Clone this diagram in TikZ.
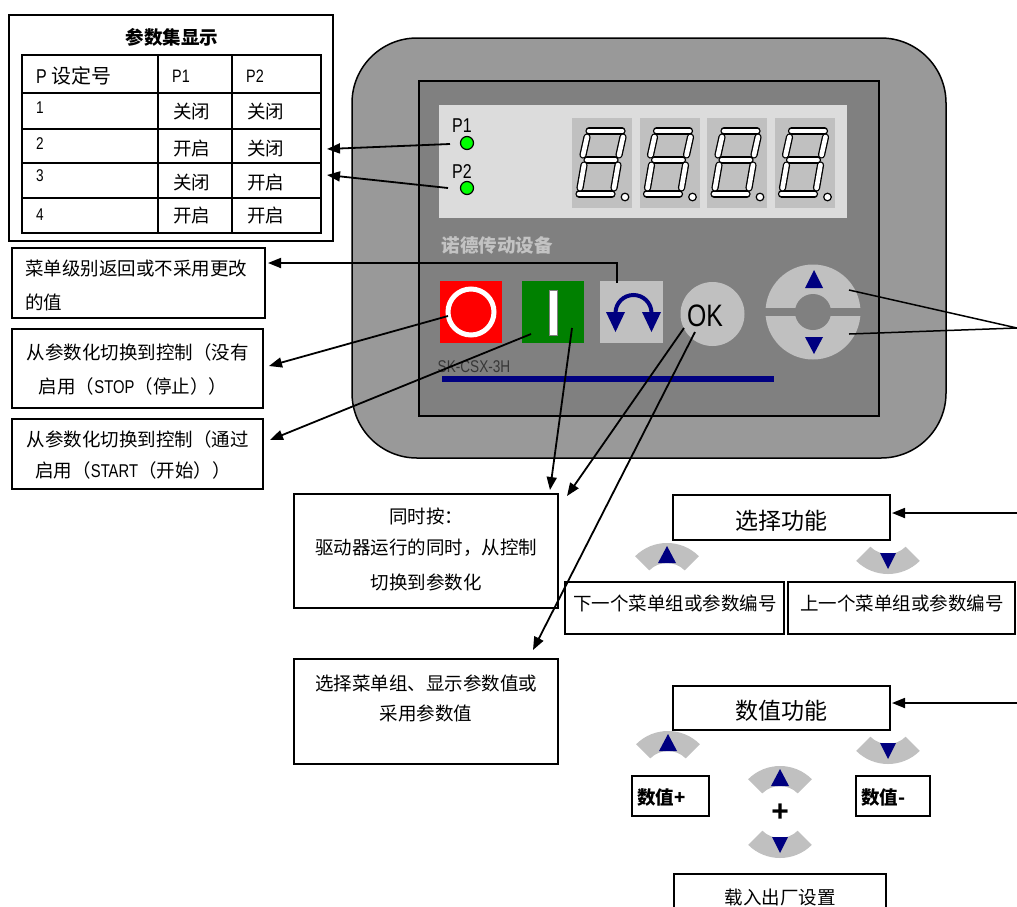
\documentclass[tikz,border=0pt]{standalone}
\usepackage{fontspec}
\setmainfont{Noto Sans CJK SC}
\newfontfamily\narrowfont[FakeStretch=0.8]{Liberation Sans}
\newfontfamily\plainsans{Liberation Sans}
\usetikzlibrary{arrows.meta}

\definecolor{casegray}{RGB}{153,153,153}
\definecolor{panelgray}{RGB}{128,128,128}
\definecolor{lcdgray}{RGB}{220,220,220}
\definecolor{keygray}{RGB}{192,192,192}
\definecolor{navyblue}{RGB}{0,0,128}
\definecolor{ledgreen}{RGB}{0,255,0}
\definecolor{stopred}{RGB}{255,0,0}
\definecolor{startgreen}{RGB}{0,128,0}
\definecolor{brandgray}{RGB}{195,195,195}
\definecolor{modelgray}{RGB}{55,55,55}

\tikzset{
  framebox/.style={draw, line width=1.8pt, fill=white, rectangle, anchor=north west,
    inner sep=0pt, outer sep=0pt},
  cjk/.style={inner sep=0pt, font=\fontsize{18.5}{22}\selectfont},
  cjkbig/.style={inner sep=0pt, font=\fontsize{23}{28}\selectfont},
  cjkbold/.style={inner sep=0pt, font=\fontsize{18.5}{22}\selectfont\bfseries},
  latin/.style={inner sep=0pt, font=\fontsize{18}{20}\selectfont\narrowfont},
  pointer/.style={draw, line width=1.8pt, -{Triangle[length=13pt,width=10pt]}},
  leader/.style={draw, line width=1.5pt},
  led/.style={circle, draw, fill=ledgreen, line width=1.2pt, minimum size=13pt, inner sep=0pt},
  segment/.style={draw=black, line width=1.3pt, double=white, double distance=4.6pt, line cap=round},
  segdigit/.pic={
    \fill[keygray] (0,0) rectangle (60,90);
    \foreach \xa/\ya/\xb/\yb in {17/13/50/13, 15/42/43/42, 7/76/40/76,
        15/19/11/37, 51/19/47/37, 12/47/8/70, 46/47/42/70}
      \draw[segment] (\xa,\ya) -- (\xb,\yb);
    \filldraw[fill=white, draw=black, line width=1.2pt] (53,79) circle[radius=3.8];
  },
  upkey/.pic={
    \fill[keygray] (-135:25) -- (-135:45) arc[start angle=-135, end angle=-45, radius=45]
      -- (-45:25) arc[start angle=-45, end angle=-135, radius=25] -- cycle;
    \fill[navyblue] (-9,-25) -- (9,-25) -- (0,-42) -- cycle;
  },
  downkey/.pic={
    \fill[keygray] (135:25) -- (135:45) arc[start angle=135, end angle=45, radius=45]
      -- (45:25) arc[start angle=45, end angle=135, radius=25] -- cycle;
    \fill[navyblue] (-8,24) -- (8,24) -- (0,40) -- cycle;
  },
}

\begin{document}
\begin{tikzpicture}[x=1pt,y=-1pt]
\useasboundingbox (0,0) rectangle (1017,906);
\fill[white] (0,0) rectangle (1017,906);

% ---------- parameter set table ----------
\node[framebox, minimum width=324pt, minimum height=226pt] (paramset) at (9,15) {};
\node[cjkbold] (paramtitle) at (172,37) {参数集显示};
\draw[line width=2pt] (22,55) rectangle (321,233);
\draw[line width=2pt] (158,55) -- (158,233) (232,55) -- (232,233);
\foreach \ry in {93,129,163,198} \draw[line width=2pt] (22,\ry) -- (321,\ry);
\node[inner sep=0pt, anchor=west, font=\fontsize{20}{24}\selectfont] (hdrset) at (36,76) {{\narrowfont P} 设定号};
\node[latin, anchor=west] (hdrpa) at (172,76) {P1};
\node[latin, anchor=west] (hdrpb) at (246,76) {P2};
\node[latin, anchor=west, font=\fontsize{17}{20}\selectfont\narrowfont] (rowa) at (36,108) {1};
\node[latin, anchor=west, font=\fontsize{17}{20}\selectfont\narrowfont] (rowb) at (36,144) {2};
\node[latin, anchor=west, font=\fontsize{17}{20}\selectfont\narrowfont] (rowc) at (36,176) {3};
\node[latin, anchor=west, font=\fontsize{17}{20}\selectfont\narrowfont] (rowd) at (36,215) {4};
\node[cjk, anchor=west] (cella1) at (173,112) {关闭};
\node[cjk, anchor=west] (cella2) at (247,112) {关闭};
\node[cjk, anchor=west] (cellb1) at (173,148) {开启};
\node[cjk, anchor=west] (cellb2) at (247,148) {关闭};
\node[cjk, anchor=west] (cellc1) at (173,182) {关闭};
\node[cjk, anchor=west] (cellc2) at (247,182) {开启};
\node[cjk, anchor=west] (celld1) at (173,215) {开启};
\node[cjk, anchor=west] (celld2) at (247,215) {开启};

% ---------- operating panel ----------
\draw[line width=1.5pt, fill=casegray, rounded corners=65pt] (352,38) rectangle (946,458);
\draw[line width=1.5pt, fill=panelgray] (419,81) rectangle (879,416);
\fill[lcdgray] (439,105) rectangle (847,218);
\foreach \dx in {572,639.5,707,774.5} \pic at (\dx,118) {segdigit};

\node[led] (leda) at (467,143) {};
\node[led] (ledb) at (467,188) {};
\node[latin, font=\fontsize{20}{22}\selectfont\narrowfont] (ledlaba) at (462,126) {P1};
\node[latin, font=\fontsize{20}{22}\selectfont\narrowfont] (ledlabb) at (462,171.5) {P2};

\node[cjkbold, text=brandgray] (brand) at (497,245) {诺德传动设备};

% STOP key
\fill[stopred] (440,281) rectangle (502,343);
\draw[white, line width=5pt] (471,312) circle[radius=23];
% START key
\fill[startgreen] (522,281) rectangle (584,343);
\filldraw[fill=white, draw=gray, line width=0.5pt] (549,290) rectangle (557,335);
% back key
\fill[keygray] (600,281) rectangle (663,343);
\draw[navyblue, line width=4pt] (615.5,313) arc[start angle=180, end angle=360, radius=18];
\fill[navyblue] (606,312) -- (625,312) -- (615.5,332) -- cycle;
\fill[navyblue] (642,312) -- (661,312) -- (651.5,332) -- cycle;
% OK key
\fill[keygray] (712.5,314) circle[radius=32];
\node[inner sep=0pt, font=\fontsize{31}{32}\selectfont\narrowfont] (oklabel) at (705,316) {OK};
% arrow wheel
\fill[keygray] (813,312) circle[radius=47.5];
\fill[panelgray] (813,312) circle[radius=18];
\fill[panelgray] (762,308) rectangle (864,316);
\fill[navyblue] (805,288) -- (823,288) -- (814,270) -- cycle;
\fill[navyblue] (805,337) -- (823,337) -- (814,354) -- cycle;

\node[inner sep=0pt, text=modelgray, font=\fontsize{17}{18}\selectfont\narrowfont] (model) at (474,367) {SK-CSX-3H};
\fill[navyblue] (442,376) rectangle (774,382);

% ---------- description boxes, left ----------
\node[framebox, minimum width=253pt, minimum height=70pt] (backbox) at (12,248) {};
\node[cjk, anchor=west] (backtxta) at (25,268) {菜单级别返回或不采用更改};
\node[cjk, anchor=west] (backtxtb) at (25,302) {的值};

\node[framebox, minimum width=251pt, minimum height=79pt] (stopbox) at (12,329) {};
\node[cjk] (stoptxta) at (137.5,352) {从参数化切换到控制（没有};
\node[cjk] (stoptxtb) at (133,386) {启用（{\narrowfont STOP}（停止））};

\node[framebox, minimum width=251pt, minimum height=70pt] (startbox) at (12,419) {};
\node[cjk] (starttxta) at (137.5,439) {从参数化切换到控制（通过};
\node[cjk] (starttxtb) at (133,470) {启用（{\narrowfont START}（开始））};

% ---------- description boxes, middle ----------
\node[framebox, minimum width=264pt, minimum height=114pt] (bothbox) at (294,494) {};
\node[cjk] (bothtxta) at (426,516) {同时按：};
\node[cjk] (bothtxtb) at (426,548) {驱动器运行的同时，从控制};
\node[cjk] (bothtxtc) at (426,582) {切换到参数化};

\node[framebox, minimum width=264pt, minimum height=105pt] (okbox) at (294,659) {};
\node[cjk] (oktxta) at (426,683) {选择菜单组、显示参数值或};
\node[cjk] (oktxtb) at (426,713) {采用参数值};

% ---------- function boxes, right ----------
\node[framebox, minimum width=217pt, minimum height=45pt] (selbox) at (673,495) {};
\node[cjkbig] (seltxt) at (781,521) {选择功能};
\pic at (667,588) {upkey};
\pic at (888,529) {downkey};
\node[framebox, minimum width=219pt, minimum height=52pt] (nextbox) at (565,582) {};
\node[cjk, anchor=west] (nexttxt) at (573,603) {下一个菜单组或参数编号};
\node[framebox, minimum width=227pt, minimum height=52pt] (prevbox) at (788,582) {};
\node[cjk, anchor=west] (prevtxt) at (800,603) {上一个菜单组或参数编号};

\node[framebox, minimum width=217pt, minimum height=44pt] (valbox) at (673,686) {};
\node[cjkbig] (valtxt) at (781,711) {数值功能};
\pic at (668,776) {upkey};
\pic at (888,719) {downkey};
\node[framebox, minimum width=77pt, minimum height=40pt] (plusbox) at (632,776) {};
\node[cjkbold, anchor=west] (plustxt) at (637,798) {数值+};
\node[framebox, minimum width=74pt, minimum height=40pt] (minusbox) at (856,776) {};
\node[cjkbold, anchor=west] (minustxt) at (861,798) {数值-};
\pic at (780,811) {upkey};
\node[inner sep=0pt, font=\fontsize{30}{32}\selectfont\plainsans\bfseries] (combo) at (780,813) {+};
\pic at (780,813) {downkey};
\node[framebox, minimum width=212pt, minimum height=60pt] (factbox) at (674,874) {};
\node[cjk] (facttxt) at (780,897) {载入出厂设置};

% ---------- connector end points ----------
\coordinate (ledasrc) at (450,144);
\coordinate (ledadst) at (327,149);
\coordinate (ledbsrc) at (448,188);
\coordinate (ledbdst) at (327,175);
\coordinate (backsrc) at (617,283);
\coordinate (backbend) at (617,263);
\coordinate (backdst) at (268,263);
\coordinate (stopsrc) at (448,316);
\coordinate (stopdst) at (269,366);
\coordinate (startsrc) at (531,334);
\coordinate (startdst) at (270,440);
\coordinate (startbar) at (572,328);
\coordinate (bothdsta) at (550,490);
\coordinate (oksrca) at (684,328);
\coordinate (bothdstb) at (567,496);
\coordinate (oksrcb) at (695,332);
\coordinate (okdst) at (533,650);
\coordinate (wheelup) at (849,290);
\coordinate (wheeldown) at (849,334);
\coordinate (wheelout) at (1017,328);
\coordinate (selsrc) at (1017,513);
\coordinate (seldst) at (892,513);
\coordinate (valsrc) at (1017,703);
\coordinate (valdst) at (892,703);

% ---------- connectors ----------
\draw[pointer] (ledasrc) -- (ledadst);
\draw[pointer] (ledbsrc) -- (ledbdst);
\draw[pointer] (backsrc) -- (backbend) -- (backdst);
\draw[pointer] (stopsrc) -- (stopdst);
\draw[pointer] (startsrc) -- (startdst);
\draw[pointer] (startbar) -- (bothdsta);
\draw[pointer] (oksrca) -- (bothdstb);
\draw[pointer] (oksrcb) -- (okdst);
\draw[leader] (wheelup) -- (wheelout) -- (wheeldown);
\draw[pointer] (selsrc) -- (seldst);
\draw[pointer] (valsrc) -- (valdst);
\end{tikzpicture}
\end{document}
